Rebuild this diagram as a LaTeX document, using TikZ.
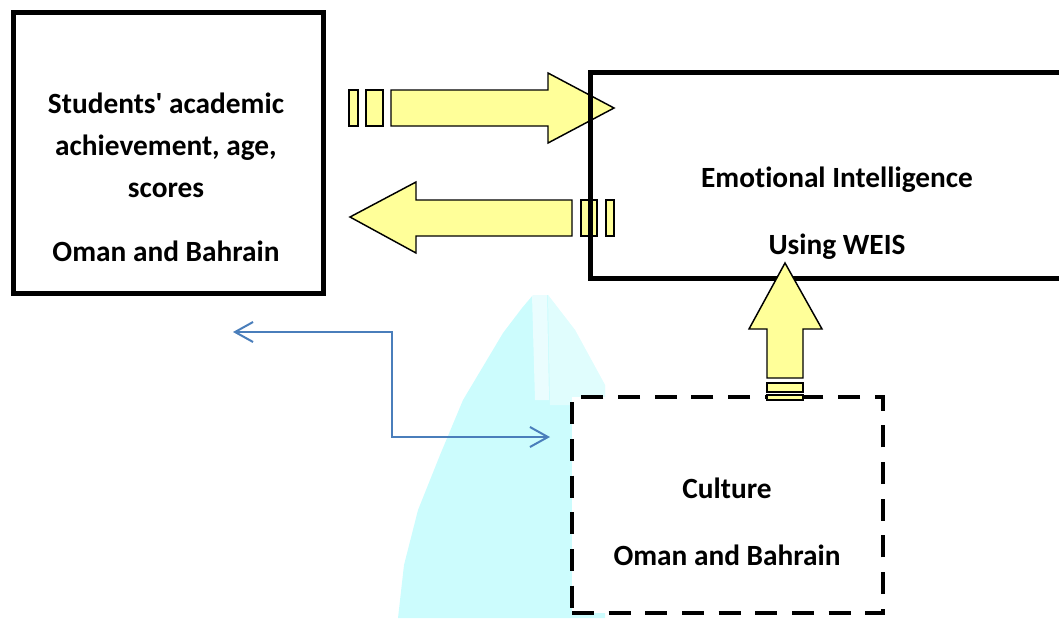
\documentclass[tikz,border=0pt]{standalone}
\usepackage{fontspec}
\setmainfont{Carlito}[Ligatures=NoCommon]
\usepackage{xcolor}
\usetikzlibrary{arrows.meta}

\definecolor{arrowyellow}{RGB}{255,255,153}
\definecolor{linkblue}{RGB}{74,126,187}
\definecolor{glow}{RGB}{204,252,253}

\begin{document}
\begin{tikzpicture}[
            x = 0.75pt, y = -0.75pt, % one unit = one pixel
            > = {Straight Barb[length=13.5pt, width=15pt]}, % open arrow head
            box/.style = {draw=black, line width=3.75pt, inner sep=0pt},
            dashbox/.style = {draw=black, fill=white, line width=3pt, inner sep=0pt, dash pattern=on 16.5pt off 11pt},
            blockarrow/.style = {draw=black, fill=arrowyellow, line width=1.1pt, line join=miter},
            label/.style = {font=\bfseries\fontsize{22}{31.5}\selectfont, align=center, anchor=base},
            link/.style = {<->, draw=linkblue, line width=1.5pt}
        ]

\useasboundingbox (0,0) rectangle (1059,618);
\clip (0,0) rectangle (1059,618);

% light glow behind the lower boxes
\fill[glow] (398,618) -- (404,565) -- (418,510) -- (440,455) -- (463,400) -- (503,333)
    -- (522,308) -- (533,295) -- (548,295) -- (575,330) -- (605,385) -- (605,618) -- cycle;
\fill[white, opacity=0.4] (548,295) -- (575,330) -- (605,385) -- (605,405) -- (550,405) -- cycle;
\fill[white, opacity=0.6] (532,295) -- (547,295) -- (549,400) -- (535,400) -- cycle;

% blue link
\coordinate (linkL) at (233,332);
\coordinate (bend) at (392,332);
\coordinate (linkR) at (550,437);
\draw[link] (linkL) -- (bend) |- (linkR);

\node[dashbox, minimum width=233.25pt, minimum height=162pt] (culture) at (727.5,505) {};

% striped block arrows
\draw[blockarrow] (349,90) rectangle (358,126);
\draw[blockarrow] (366,90) rectangle (383,126);
\draw[blockarrow] (391,90) -- (548,90) -- (548,73) -- (614,108) -- (548,143) -- (548,126) -- (391,126) -- cycle;

\draw[blockarrow] (350,217) -- (416,182) -- (416,200) -- (572,200) -- (572,236) -- (416,236) -- (416,253) -- cycle;
\draw[blockarrow] (581,200) rectangle (597,236);
\draw[blockarrow] (606,200) rectangle (614,236);

\node[box, minimum width=232.5pt, minimum height=210.75pt] (students) at (168.5,153) {};
\node[box, minimum width=367.5pt, minimum height=154.5pt] (ei) at (835,175) {};

\draw[blockarrow] (785,263) -- (822,329) -- (803,329) -- (803,378) -- (767,378) -- (767,329) -- (749,329) -- cycle;
\draw[blockarrow] (767,383) rectangle (803,392);
\draw[blockarrow] (767,395) rectangle (803,400);

% texts (anchored on the last line)
\node[label] (studentsText) at (166,261) {Students\textquotesingle{} academic\\achievement, age,\\scores\\[16.5pt]Oman and Bahrain};
\node[label] (eiText) at (837,254) {Emotional Intelligence\\[18.75pt]Using WEIS};
\node[label] (cultureText) at (727,565) {Culture\\[18.75pt]Oman and Bahrain};
\end{tikzpicture}
\end{document}
